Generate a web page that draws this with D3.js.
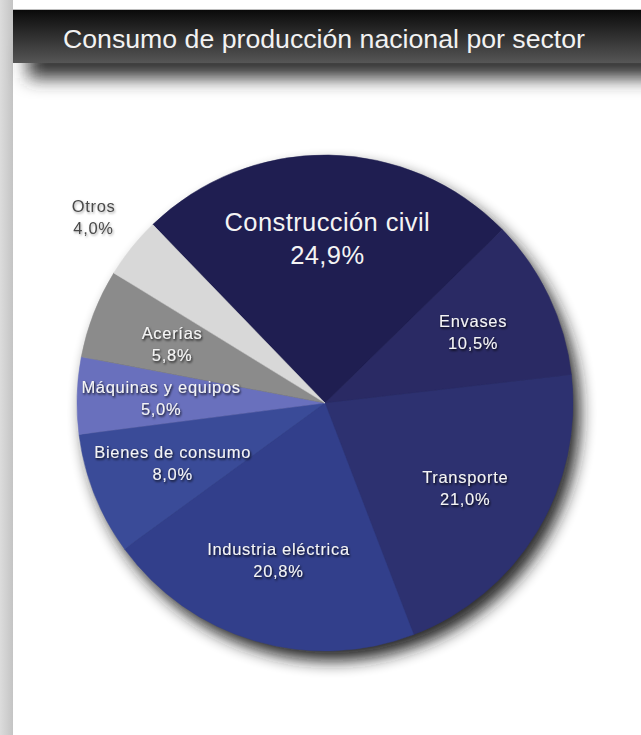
<!DOCTYPE html>
<html>
<head>
<meta charset="utf-8">
<script src="https://cdn.jsdelivr.net/npm/d3@7"></script>
<style>
  html, body { margin: 0; padding: 0; background: #fff; }
  svg { display: block; }
</style>
</head>
<body>
<svg id="chart" width="641" height="735"></svg>
<script>
// Sector shares of national production consumption (%)
const sectors = ["Construcción civil", "Envases", "Transporte", "Industria eléctrica",
                 "Bienes de consumo", "Máquinas y equipos", "Acerías", "Otros"];
const shares  = [24.9, 10.5, 21.0, 20.8, 8.0, 5.0, 5.8, 4.0];
const labels  = ["24,9%", "10,5%", "21,0%", "20,8%", "8,0%", "5,0%", "5,8%", "4,0%"];
const colors  = ["#1f1e51", "#2a2a64", "#2d3170", "#323f8b", "#3a4b98", "#6970bd", "#8b8b8b", "#d8d8d8"];

const title = "Consumo de producción nacional por sector";

const W = 641, H = 735;
const svg = d3.select("#chart");
const defs = svg.append("defs");

// header gradient
const hg = defs.append("linearGradient").attr("id", "hdr").attr("x1", 0).attr("y1", 0).attr("x2", 0).attr("y2", 1);
hg.append("stop").attr("offset", "0%").attr("stop-color", "#0a0a0a");
hg.append("stop").attr("offset", "100%").attr("stop-color", "#565656");

// left strip gradient
const sg = defs.append("linearGradient").attr("id", "strip").attr("x1", 0).attr("y1", 0).attr("x2", 1).attr("y2", 0);
sg.append("stop").attr("offset", "0%").attr("stop-color", "#dcdcdc");
sg.append("stop").attr("offset", "100%").attr("stop-color", "#c4c4c4");

// soft shadows
const f1 = defs.append("filter").attr("id", "blurHdr").attr("x", "-10%").attr("y", "-100%").attr("width", "120%").attr("height", "300%");
f1.append("feGaussianBlur").attr("stdDeviation", 9);

const f2 = defs.append("filter").attr("id", "pieShadow").attr("x", "-20%").attr("y", "-20%").attr("width", "140%").attr("height", "140%");
f2.append("feGaussianBlur").attr("stdDeviation", 8);

const f3 = defs.append("filter").attr("id", "txtShadow").attr("x", "-20%").attr("y", "-40%").attr("width", "140%").attr("height", "180%");
f3.append("feDropShadow").attr("dx", 1).attr("dy", 1.5).attr("stdDeviation", 1.3)
  .attr("flood-color", "#000").attr("flood-opacity", 0.9);

const f4 = defs.append("filter").attr("id", "txtShadowLight").attr("x", "-20%").attr("y", "-40%").attr("width", "140%").attr("height", "180%");
f4.append("feDropShadow").attr("dx", 1).attr("dy", 1.5).attr("stdDeviation", 1.2)
  .attr("flood-color", "#888").attr("flood-opacity", 0.7);

// page frame
svg.append("rect").attr("x", 0).attr("y", 0).attr("width", W).attr("height", H).attr("fill", "#fff");
svg.append("rect").attr("x", 0).attr("y", 0).attr("width", 13).attr("height", H).attr("fill", "url(#strip)");
svg.append("rect").attr("x", 13).attr("y", 9).attr("width", W - 13).attr("height", 1).attr("fill", "#bdbdbd");

// header with shadow beneath
svg.append("rect").attr("x", 28).attr("y", 46).attr("width", W).attr("height", 32)
  .attr("fill", "#333").attr("filter", "url(#blurHdr)");
svg.append("rect").attr("x", 13).attr("y", 10).attr("width", W - 13).attr("height", 53).attr("fill", "url(#hdr)");
svg.append("text").attr("x", 324).attr("y", 48).attr("text-anchor", "middle")
  .attr("font-family", "'Liberation Sans', Arial, sans-serif").attr("font-size", 26.5)
  .attr("textLength", 522).attr("lengthAdjust", "spacingAndGlyphs")
  .attr("fill", "#f2f2f2").text(title);

// pie
const cx = 325, cy = 403, R = 248;
const start = -44 * Math.PI / 180;
const pie = d3.pie().sort(null).value(d => d).startAngle(start).endAngle(start + 2 * Math.PI);
const arcs = pie(shares);
const arc = d3.arc().innerRadius(0).outerRadius(R);

const g = svg.append("g").attr("transform", `translate(${cx},${cy})`);

g.append("circle").attr("cx", 7).attr("cy", 10).attr("r", R).attr("fill", "#1a1a1a")
  .attr("opacity", 0.95).attr("filter", "url(#pieShadow)");

g.selectAll("path.slice").data(arcs).enter().append("path")
  .attr("class", "slice")
  .attr("d", arc)
  .attr("fill", (d, i) => colors[i])
  .attr("stroke", (d, i) => colors[i]).attr("stroke-width", 0.5);

// labels
const inner = d3.arc().innerRadius(164).outerRadius(164);
const outer = d3.arc().innerRadius(297).outerRadius(297);

arcs.forEach((d, i) => {
  const isOut = i === 7;
  const big = i === 0;
  const [x, y] = (isOut ? outer : inner).centroid(d);
  const fs = big ? 25.5 : 16.5;
  const gap = big ? 33 : 22;
  const t = g.append("text")
    .attr("text-anchor", "middle")
    .attr("font-family", "'Liberation Sans', Arial, sans-serif")
    .attr("font-size", fs)
    .attr("letter-spacing", big ? 0.4 : 0.7)
    .attr("fill", isOut ? "#4a4a4a" : "#f4f4f4")
    .attr("filter", isOut ? "url(#txtShadowLight)" : (big ? null : "url(#txtShadow)"));
  t.append("tspan").attr("x", x).attr("y", y - gap / 2 + fs * 0.35).text(sectors[i]);
  t.append("tspan").attr("x", x).attr("y", y + gap / 2 + fs * 0.35).text(labels[i]);
});
</script>
</body>
</html>
